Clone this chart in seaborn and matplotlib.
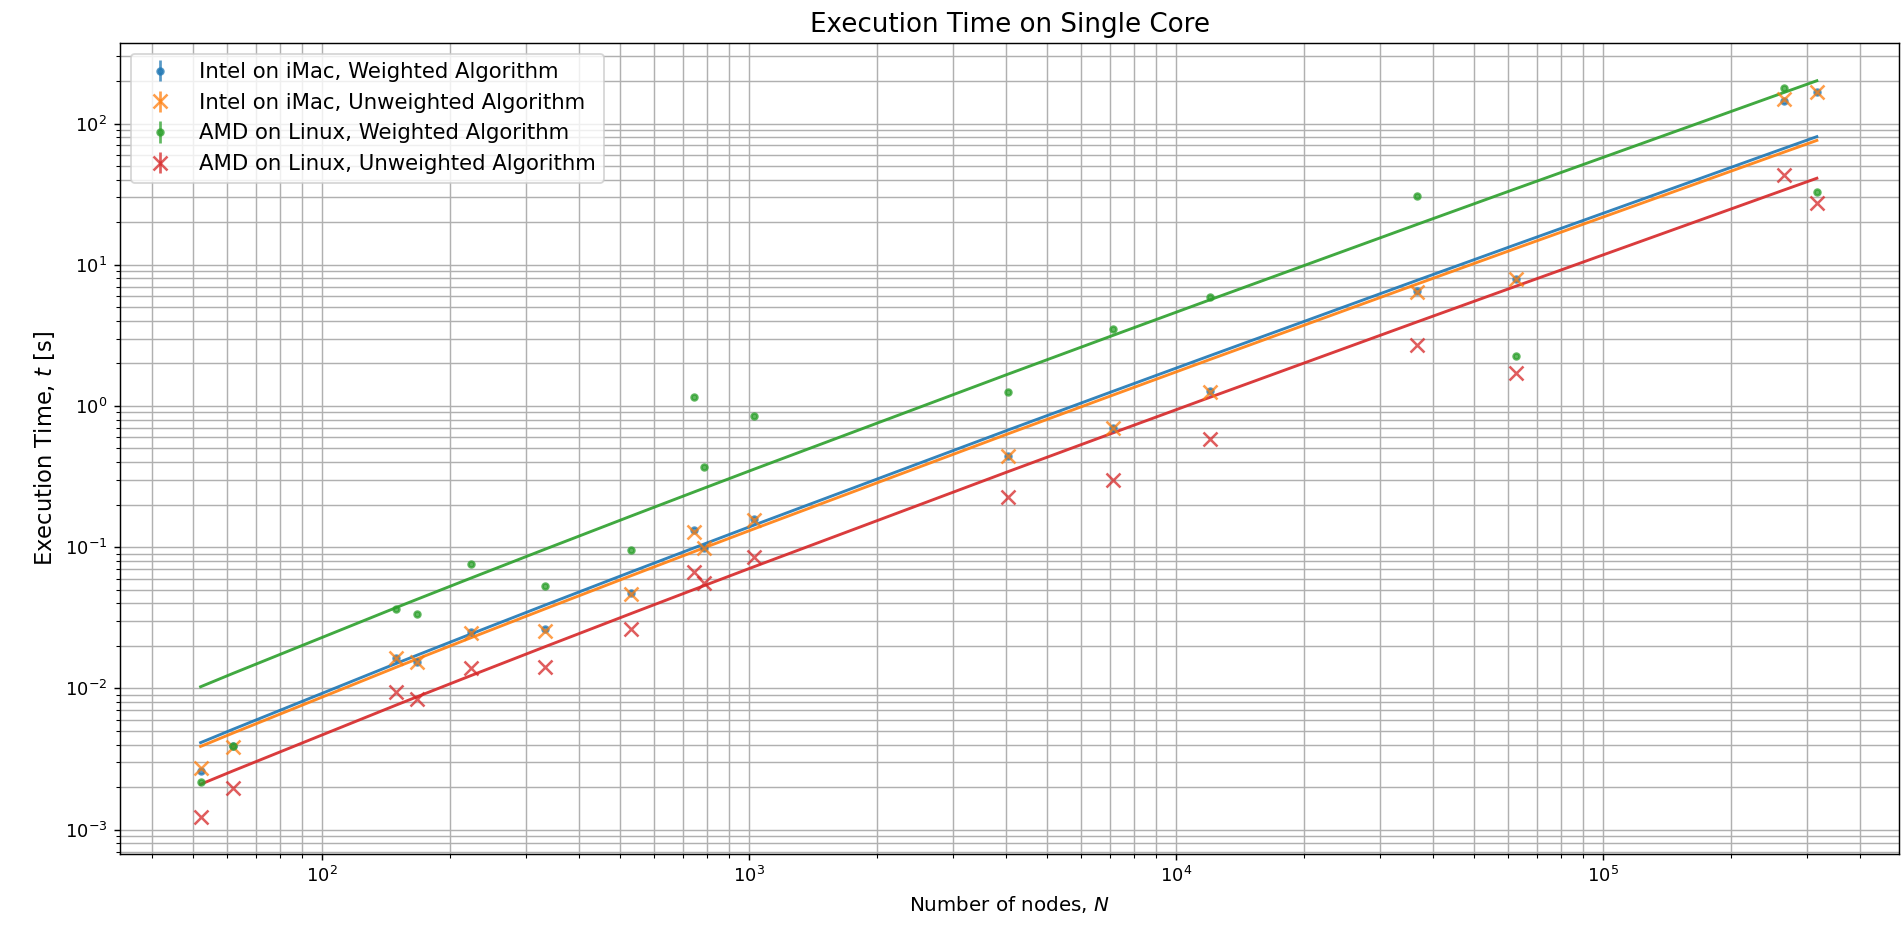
import numpy as np
import pandas as pd
import seaborn as sns
import matplotlib
matplotlib.use("Agg")
import matplotlib.pyplot as plt

# number of nodes in each test graph
nodes = [52, 62, 149, 167, 223, 333, 531, 743, 787, 1030,
         4039, 7115, 12008, 36692, 62586, 265214, 317080]

# execution times [s]
intel_weighted = [2.6e-3, 3.9e-3, 0.0165, 0.0155, 0.0250, 0.0265, 0.0475, 0.133, 0.099, 0.158,
                  0.445, 0.70, 1.27, 6.5, 7.9, 145, 168]
intel_unweighted = [2.72e-3, 3.87e-3, 0.0164, 0.0153, 0.0248, 0.0256, 0.0467, 0.129, 0.098, 0.156,
                    0.441, 0.693, 1.26, 6.43, 7.87, 148, 167]
amd_weighted = [2.19e-3, 3.9e-3, 0.0363, 0.0336, 0.0757, 0.0534, 0.0957, 1.16, 0.372, 0.843,
                1.25, 3.51, 5.87, 30.6, 2.25, 177, 32.5]
amd_unweighted = [1.22e-3, 1.97e-3, 9.48e-3, 8.38e-3, 0.0139, 0.0141, 0.0262, 0.0672, 0.0555, 0.0859,
                  0.225, 0.299, 0.581, 2.70, 1.70, 43.0, 27.2]

labels = ["Intel on iMac, Weighted Algorithm", "Intel on iMac, Unweighted Algorithm",
          "AMD on Linux, Weighted Algorithm", "AMD on Linux, Unweighted Algorithm"]
# fitted constant c in t = c * N ln N
fit_coef = [2.01e-5, 1.89e-5, 5.0e-5, 1.02e-5]

series = [intel_weighted, intel_unweighted, amd_weighted, amd_unweighted]
markers = [".", "x", ".", "x"]
colors = ["C0", "C1", "C2", "C3"]

fig, ax = plt.subplots(figsize=(1903 / 130, 935 / 130), dpi=130)
ax.set_xscale("log")
ax.set_yscale("log")

N = np.array(nodes, dtype=float)
for ys, lab, mk, col in zip(series, labels, markers, colors):
    ax.errorbar(N, ys, yerr=np.zeros(len(ys)), fmt=mk, color=col, label=lab,
                alpha=0.75, ms=8 if mk == "x" else 6.5, mew=1.4)

for c, col in zip(fit_coef, colors):
    fit = pd.DataFrame({"N": N, "t": c * N * np.log(N)})
    sns.lineplot(data=fit, x="N", y="t", color=col, linewidth=1.6, alpha=0.9, ax=ax)

ax.set_xlim(10 ** 1.527, 10 ** 5.694)
ax.set_ylim(10 ** -3.17, 10 ** 2.57)
ax.grid(True, which="both", color="#b0b0b0", linewidth=0.8)
ax.set_title("Execution Time on Single Core", fontsize=14.5)
ax.set_xlabel("Number of nodes, $N$", fontsize=11)
ax.set_ylabel("Execution Time, $t$ [s]", fontsize=12.5)
ax.legend(loc="upper left", fontsize=11.8)

fig.subplots_adjust(left=0.063, right=0.998, top=0.954, bottom=0.087)
fig.savefig("out.png", dpi=130)
